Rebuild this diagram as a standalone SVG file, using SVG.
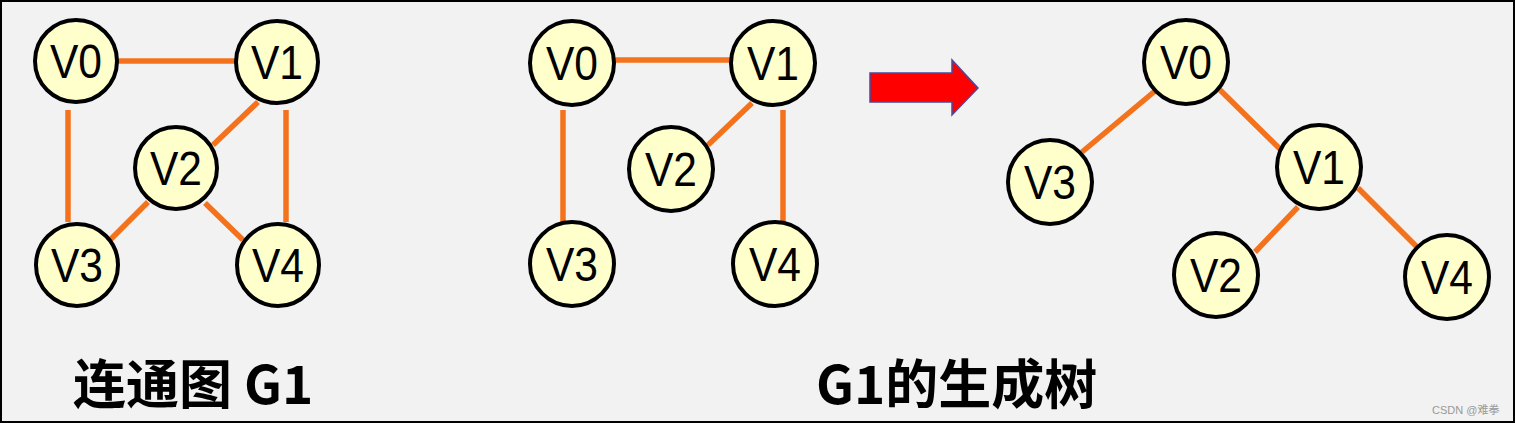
<svg xmlns="http://www.w3.org/2000/svg" width="1515" height="423" viewBox="0 0 1515 423">
<style>
.n circle{fill:#ffffcc;stroke:#000;stroke-width:4}
.n text{font-family:"Liberation Sans",Arial,sans-serif;font-size:48px;fill:#000;text-anchor:middle}
.e line{stroke:#f4721c;stroke-width:5.5}
.t{font-family:"Noto Sans CJK SC","Noto Sans",sans-serif;font-weight:bold;font-size:53px;fill:#000}
</style>
<rect x="0" y="0" width="1515" height="423" fill="#f2f2f2"/>
<rect x="1" y="1" width="1513" height="421" fill="none" stroke="#000" stroke-width="2"/>
<g id="connectors" class="e">
<line x1="118" y1="61" x2="235" y2="61"/>
<line x1="68" y1="110" x2="68" y2="222"/>
<line x1="286" y1="110" x2="286" y2="222"/>
<line x1="258" y1="102" x2="213" y2="145"/>
<line x1="148" y1="202" x2="110" y2="240"/>
<line x1="205" y1="203" x2="243" y2="240"/>
<line x1="615" y1="60" x2="730" y2="60"/>
<line x1="563" y1="110" x2="563" y2="223"/>
<line x1="783" y1="110" x2="783" y2="223"/>
<line x1="752" y1="103" x2="708" y2="145"/>
<line x1="1155" y1="91" x2="1082" y2="152"/>
<line x1="1217" y1="87" x2="1283" y2="152"/>
<line x1="1298" y1="207" x2="1255" y2="252"/>
<line x1="1358" y1="188" x2="1417" y2="247"/>
</g>
<g id="g1-v0" class="n"><circle cx="76" cy="61" r="41"/><text x="76" y="78" textLength="52" lengthAdjust="spacingAndGlyphs">V0</text></g>
<g id="g1-v1" class="n"><circle cx="277" cy="62" r="41"/><text x="277" y="79" textLength="52" lengthAdjust="spacingAndGlyphs">V1</text></g>
<g id="g1-v2" class="n"><circle cx="176" cy="168" r="41"/><text x="176" y="185" textLength="52" lengthAdjust="spacingAndGlyphs">V2</text></g>
<g id="g1-v3" class="n"><circle cx="77" cy="265" r="41"/><text x="77" y="282" textLength="52" lengthAdjust="spacingAndGlyphs">V3</text></g>
<g id="g1-v4" class="n"><circle cx="278" cy="265" r="41"/><text x="278" y="282" textLength="52" lengthAdjust="spacingAndGlyphs">V4</text></g>
<g id="g2-v0" class="n"><circle cx="572" cy="63" r="42"/><text x="572" y="80" textLength="52" lengthAdjust="spacingAndGlyphs">V0</text></g>
<g id="g2-v1" class="n"><circle cx="773" cy="63" r="42"/><text x="773" y="80" textLength="52" lengthAdjust="spacingAndGlyphs">V1</text></g>
<g id="g2-v2" class="n"><circle cx="671" cy="169" r="42"/><text x="671" y="186" textLength="52" lengthAdjust="spacingAndGlyphs">V2</text></g>
<g id="g2-v3" class="n"><circle cx="572" cy="264" r="42"/><text x="572" y="281" textLength="52" lengthAdjust="spacingAndGlyphs">V3</text></g>
<g id="g2-v4" class="n"><circle cx="775" cy="264" r="42"/><text x="775" y="281" textLength="52" lengthAdjust="spacingAndGlyphs">V4</text></g>
<g id="arrow"><polygon points="870,73 952,73 952,60 978,88 952,115 952,102 870,102" fill="#ff0000" stroke="#4a4aa0" stroke-width="1.5"/></g>
<g id="t-v0" class="n"><circle cx="1186" cy="62" r="42"/><text x="1186" y="79" textLength="52" lengthAdjust="spacingAndGlyphs">V0</text></g>
<g id="t-v3" class="n"><circle cx="1050" cy="182" r="42"/><text x="1050" y="199" textLength="52" lengthAdjust="spacingAndGlyphs">V3</text></g>
<g id="t-v1" class="n"><circle cx="1319" cy="167" r="42"/><text x="1319" y="184" textLength="52" lengthAdjust="spacingAndGlyphs">V1</text></g>
<g id="t-v2" class="n"><circle cx="1216" cy="275" r="42"/><text x="1216" y="292" textLength="52" lengthAdjust="spacingAndGlyphs">V2</text></g>
<g id="t-v4" class="n"><circle cx="1447" cy="277" r="42"/><text x="1447" y="294" textLength="52" lengthAdjust="spacingAndGlyphs">V4</text></g>
<text class="t" x="73" y="404">连通图 G1</text>
<text class="t" x="816" y="404">G1的生成树</text>
<text x="1432" y="414" font-family="Liberation Sans,'Noto Sans CJK SC',sans-serif" font-size="11" fill="#999">CSDN @难拳</text>
</svg>
